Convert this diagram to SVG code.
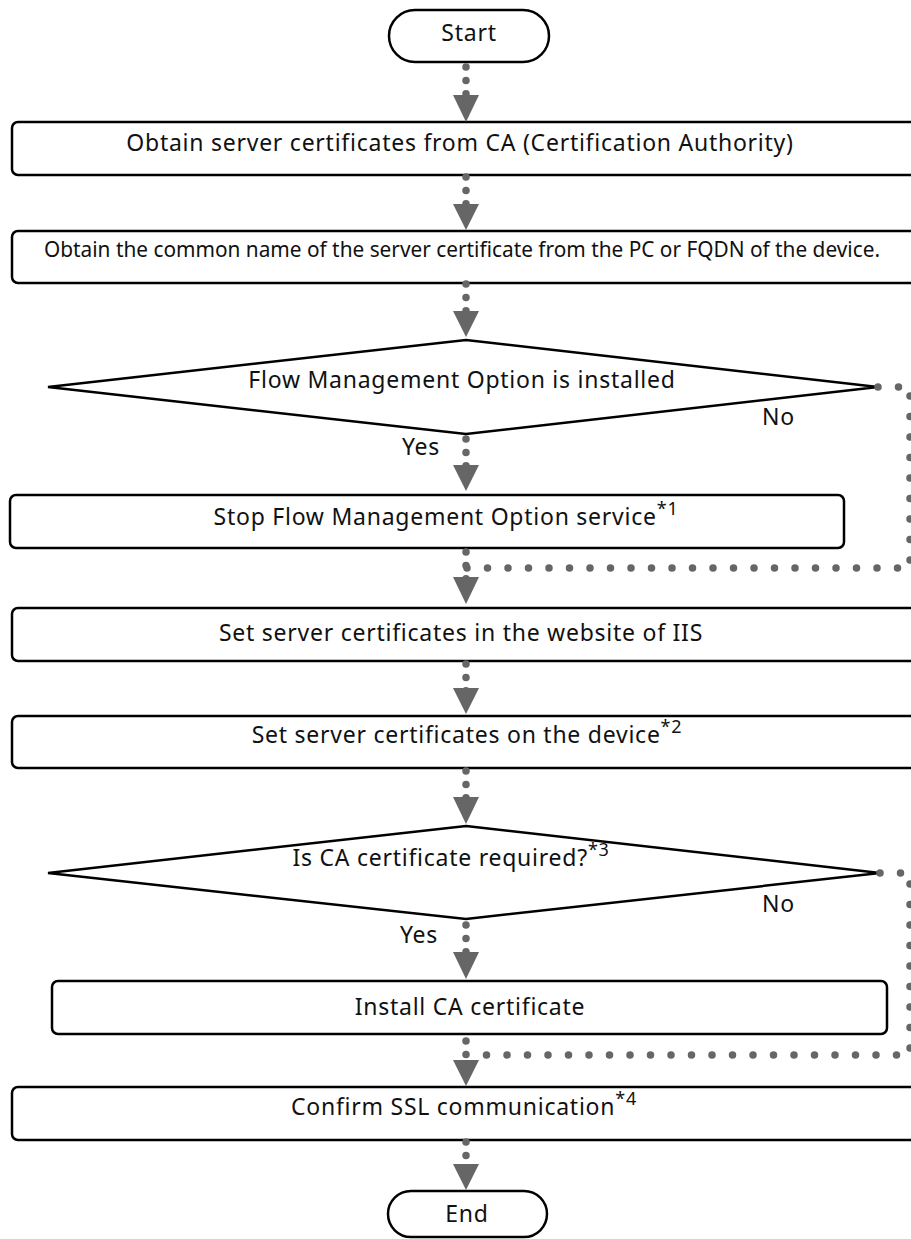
<svg xmlns="http://www.w3.org/2000/svg" width="911" height="1239" viewBox="0 0 911 1239">
<style>
.box{fill:#fff;stroke:#000;stroke-width:2.5}
.dots{fill:none;stroke:#666;stroke-width:7.5;stroke-linecap:round;stroke-dasharray:0 13.4}
.loop{fill:none;stroke:#666;stroke-width:7.5;stroke-linecap:round;stroke-dasharray:0 20.5}
.head{fill:#666}
text{font-family:"Noto Sans","Open Sans",sans-serif;font-size:23px;letter-spacing:0.75px;fill:#111}
.c{text-anchor:middle}
.sup{font-size:18px}
.small{font-size:21px;letter-spacing:0}
</style>
<rect width="911" height="1239" fill="#fff"/>
<g id="start"><rect class="box" x="389" y="10" width="160" height="52" rx="26"/><text class="c" x="469" y="41">Start</text></g>
<g id="obtain-cert"><rect class="box" x="12" y="122" width="920" height="53" rx="6"/><text class="c" x="460" y="151">Obtain server certificates from CA (Certification Authority)</text></g>
<g id="obtain-cn"><rect class="box" x="12" y="231" width="920" height="52" rx="6"/><text class="small" x="44" y="257" textLength="836" lengthAdjust="spacingAndGlyphs">Obtain the common name of the server certificate from the PC or FQDN of the device.</text></g>
<g id="fmo-installed"><polygon class="box" points="466,340 878,387 466,434 48,387"/><text class="c" x="462" y="388">Flow Management Option is installed</text></g>
<g id="stop-fmo"><rect class="box" x="10" y="495" width="834" height="53" rx="6"/><text class="c" x="446" y="525">Stop Flow Management Option service<tspan class="sup" dy="-10">*1</tspan></text></g>
<g id="set-iis"><rect class="box" x="12" y="608" width="920" height="53" rx="6"/><text class="c" x="461" y="641">Set server certificates in the website of IIS</text></g>
<g id="set-device"><rect class="box" x="12" y="716" width="920" height="52" rx="6"/><text class="c" x="467" y="743">Set server certificates on the device<tspan class="sup" dy="-10">*2</tspan></text></g>
<g id="ca-required"><polygon class="box" points="466,826 880,873 466,919 48,873"/><text class="c" x="451" y="866">Is CA certificate required?<tspan class="sup" dy="-10">*3</tspan></text></g>
<g id="install-ca"><rect class="box" x="52" y="981" width="835" height="53" rx="6"/><text class="c" x="470" y="1015">Install CA certificate</text></g>
<g id="confirm-ssl"><rect class="box" x="12" y="1087" width="920" height="53" rx="6"/><text class="c" x="464" y="1115">Confirm SSL communication<tspan class="sup" dy="-10">*4</tspan></text></g>
<g id="end"><rect class="box" x="388" y="1191" width="159" height="46" rx="23"/><text class="c" x="467" y="1222">End</text></g>
<g id="connectors">
<path class="loop" d="M878,387 H910 V568 H466"/>
<path class="loop" d="M880,873 H910 V1055 H466"/>
<path class="dots" d="M466,67 V94"/><polygon class="head" points="453,95 479,95 466,122"/>
<path class="dots" d="M466,177 V204"/><polygon class="head" points="453,204 479,204 466,230"/>
<path class="dots" d="M466,284 V311"/><polygon class="head" points="453,311 479,311 466,337"/>
<path class="dots" d="M466,439 V466"/><polygon class="head" points="453,465 479,465 466,491"/>
<path class="dots" d="M466,552 V579"/><polygon class="head" points="453,577 479,577 466,604"/>
<path class="dots" d="M466,664 V691"/><polygon class="head" points="453,688 479,688 466,714"/>
<path class="dots" d="M466,771 V798"/><polygon class="head" points="453,797 479,797 466,824"/>
<path class="dots" d="M466,925 V952"/><polygon class="head" points="453,952 479,952 466,979"/>
<path class="dots" d="M466,1041 V1055"/><polygon class="head" points="453,1060 479,1060 466,1086"/>
<path class="dots" d="M466,1142 V1169"/><polygon class="head" points="453,1164 479,1164 466,1190"/>
<text x="762" y="425">No</text><text x="402" y="455">Yes</text>
<text x="762" y="912">No</text><text x="400" y="943">Yes</text>
</g>
</svg>
